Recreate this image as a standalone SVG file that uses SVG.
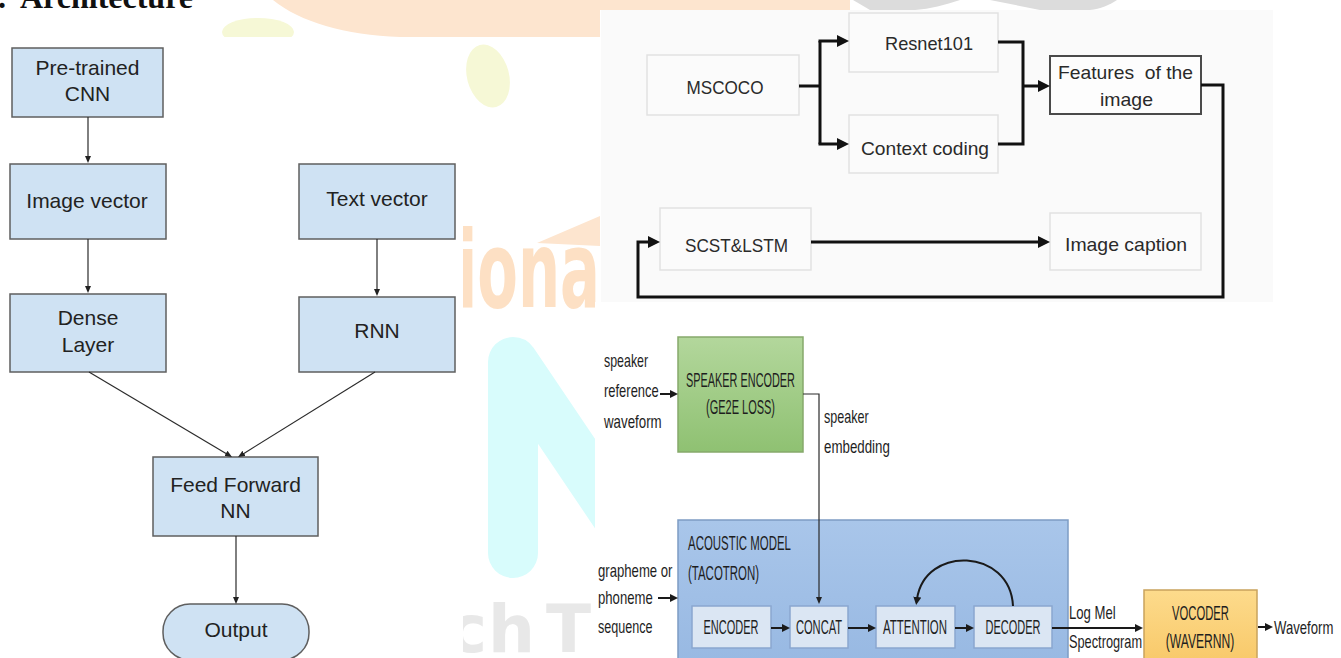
<svg xmlns="http://www.w3.org/2000/svg" width="1341" height="658" viewBox="0 0 1341 658">
<style>
.lbox{fill:#cfe2f3;stroke:#5f5f5f;stroke-width:1.5}
.lt{font-family:"Liberation Sans",Arial,sans-serif;font-size:21px;fill:#222;text-anchor:middle}
.tbox{fill:#fbfbfb;stroke:#e2e2e2;stroke-width:1.5}
.tt{font-family:"Liberation Sans",Arial,sans-serif;font-size:19px;fill:#2a2a2a;text-anchor:middle}
.bt{font-family:"Liberation Sans",Arial,sans-serif;font-size:18px;fill:#1e1e1e}
.btc{font-family:"Liberation Sans",Arial,sans-serif;font-size:20px;fill:#1e1e1e}
.btm{font-family:"Liberation Sans",Arial,sans-serif;font-size:20px;fill:#1e1e1e;text-anchor:middle}
.ibox{fill:#dbe6f3;stroke:#8aa7cf;stroke-width:1.5}
.cl{fill:none;stroke:#2b2b2b;stroke-width:1.2}
.ct{fill:none;stroke:#111;stroke-width:3}
.cb{fill:none;stroke:#1a1a1a;stroke-width:2}
.wm{font-family:"DejaVu Sans",sans-serif;font-weight:bold}
</style>
<defs>
<marker id="aL" viewBox="0 0 7 6" refX="2" refY="3" markerWidth="7" markerHeight="6" markerUnits="userSpaceOnUse" orient="auto"><path d="M0,0 L7,3 L0,6 Z" fill="#222"/></marker>
<marker id="aT" viewBox="0 0 12 12" refX="3" refY="6" markerWidth="12" markerHeight="12" markerUnits="userSpaceOnUse" orient="auto"><path d="M0,0 L12,6 L0,12 Z" fill="#111"/></marker>
<marker id="aB" viewBox="0 0 8 8" refX="2" refY="4" markerWidth="8" markerHeight="8" markerUnits="userSpaceOnUse" orient="auto"><path d="M0,0 L8,4 L0,8 Z" fill="#1a1a1a"/></marker>
<linearGradient id="gGreen" x1="0" y1="0" x2="0" y2="1"><stop offset="0" stop-color="#b3d79c"/><stop offset="1" stop-color="#8fc172"/></linearGradient>
<linearGradient id="gBlue" x1="0" y1="0" x2="0" y2="1"><stop offset="0" stop-color="#a9c6ea"/><stop offset="1" stop-color="#97b8e2"/></linearGradient>
<linearGradient id="gOrange" x1="0" y1="0" x2="0" y2="1"><stop offset="0" stop-color="#fddb8c"/><stop offset="1" stop-color="#f8c868"/></linearGradient>
<clipPath id="cGap"><rect x="463" y="37" width="136" height="621"/></clipPath>
</defs>

<g id="watermark">
<path d="M273,0 C300,22 345,35 400,37 L600,37 L600,10 L850,10 L850,0 Z" fill="#fde5cf"/>
<ellipse cx="258" cy="32" rx="36" ry="14" fill="#f6f8d6"/>
<ellipse cx="488" cy="76" rx="21" ry="32" transform="rotate(-15 488 76)" fill="#f6f8d6"/>
<path d="M537,243 L600,216 L600,246 Z" fill="#fde5cf"/>
<g clip-path="url(#cGap)">
<text class="wm" transform="matrix(0.553,0,0,1,457,307)" font-size="107" fill="#fde0c4">iona</text>
<path d="M513,553 L513,362 L660,580" fill="none" stroke="#d8fcfc" stroke-width="50" stroke-linecap="round" stroke-linejoin="round"/>
<text class="wm" y="652" font-size="66" fill="#e8e8e8" x="448 488 530 546">ch T</text>
</g>
<path d="M853,0 L960,0 C945,5 930,9 915,10 L870,10 Z" fill="#dcdcdc"/>
<path d="M990,0 L1117,0 C1110,5 1100,9 1090,10 L1040,10 Z" fill="#dcdcdc"/>
</g>

<g id="panels">
<rect x="0" y="37" width="463" height="621" fill="#ffffff"/>
<rect x="601" y="10" width="672" height="292" fill="#fafafa"/>
<rect x="595" y="302" width="746" height="356" fill="#ffffff"/>
</g>

<g id="title">
<text y="8" style="font-family:'Liberation Serif','Times New Roman',serif;font-weight:bold;font-size:32px;fill:#111"><tspan x="-2">.</tspan><tspan x="20">Architecture</tspan></text>
</g>

<!-- Left diagram -->
<g id="node-cnn"><rect class="lbox" x="12" y="48" width="151" height="69"/><text class="lt" x="87.5" y="75">Pre-trained</text><text class="lt" x="87.5" y="101">CNN</text></g>
<g id="node-imagevector"><rect class="lbox" x="10" y="164" width="156" height="75"/><text class="lt" x="87" y="208">Image vector</text></g>
<g id="node-textvector"><rect class="lbox" x="299" y="164" width="156" height="75"/><text class="lt" x="377" y="206">Text vector</text></g>
<g id="node-dense"><rect class="lbox" x="10" y="294" width="156" height="78"/><text class="lt" x="88" y="325">Dense</text><text class="lt" x="88" y="352">Layer</text></g>
<g id="node-rnn"><rect class="lbox" x="299" y="297" width="156" height="75"/><text class="lt" x="377" y="338">RNN</text></g>
<g id="node-ffnn"><rect class="lbox" x="153" y="457" width="165" height="79"/><text class="lt" x="235.5" y="492">Feed Forward</text><text class="lt" x="235.5" y="518">NN</text></g>
<g id="node-output"><rect class="lbox" x="163" y="604" width="146" height="56" rx="27"/><text class="lt" x="236" y="637">Output</text></g>

<!-- Top-right diagram -->
<g id="node-mscoco"><rect class="tbox" x="647" y="55" width="152" height="60"/><text class="tt" x="725" y="94" textLength="77" lengthAdjust="spacingAndGlyphs">MSCOCO</text></g>
<g id="node-resnet"><rect class="tbox" x="849" y="13" width="149" height="59"/><text class="tt" x="929" y="50" textLength="88" lengthAdjust="spacingAndGlyphs">Resnet101</text></g>
<g id="node-context"><rect class="tbox" x="849" y="115" width="149" height="58"/><text class="tt" x="925" y="155" textLength="128" lengthAdjust="spacingAndGlyphs">Context coding</text></g>
<g id="node-features"><rect x="1050" y="56" width="151" height="58" fill="#fdfdfd" stroke="#4a4a4a" stroke-width="2"/><text class="tt" x="1125.5" y="79" textLength="135" lengthAdjust="spacingAndGlyphs" style="white-space:pre">Features  of the</text><text class="tt" x="1126.5" y="106" textLength="53" lengthAdjust="spacingAndGlyphs">image</text></g>
<g id="node-scst"><rect class="tbox" x="660" y="208" width="151" height="62"/><text class="tt" x="736.5" y="252" textLength="103" lengthAdjust="spacingAndGlyphs">SCST&amp;LSTM</text></g>
<g id="node-caption"><rect class="tbox" x="1050" y="213" width="151" height="57"/><text class="tt" x="1126" y="251" textLength="122" lengthAdjust="spacingAndGlyphs">Image caption</text></g>

<!-- Bottom-right diagram -->
<g id="node-speaker-encoder"><rect x="678" y="337" width="125" height="115" fill="url(#gGreen)" stroke="#86a96b" stroke-width="1.5"/><text class="btm" transform="matrix(0.545,0,0,1,740.5,387)">SPEAKER ENCODER</text><text class="btm" transform="matrix(0.55,0,0,1,740.5,414)">(GE2E LOSS)</text></g>
<g id="label-speaker-ref"><text class="bt" transform="matrix(0.69,0,0,1,604,367)">speaker</text><text class="bt" transform="matrix(0.72,0,0,1,604,397)">reference</text><text class="bt" transform="matrix(0.74,0,0,1,604,428)">waveform</text></g>
<g id="label-embedding"><text class="bt" transform="matrix(0.70,0,0,1,824,423)">speaker</text><text class="bt" transform="matrix(0.74,0,0,1,824,453)">embedding</text></g>
<g id="node-acoustic"><rect x="678" y="520" width="390" height="150" fill="url(#gBlue)" stroke="#7d9cc4" stroke-width="1.5"/><text class="btc" transform="matrix(0.572,0,0,1,688,550)">ACOUSTIC MODEL</text><text class="btc" transform="matrix(0.574,0,0,1,688,580)">(TACOTRON)</text></g>
<g id="label-grapheme"><text class="bt" transform="matrix(0.73,0,0,1,598,577)">grapheme or</text><text class="bt" transform="matrix(0.73,0,0,1,598,604)">phoneme</text><text class="bt" transform="matrix(0.70,0,0,1,598,633)">sequence</text></g>
<g id="node-encoder"><rect class="ibox" x="692" y="606" width="79" height="42"/><text class="btm" transform="matrix(0.55,0,0,1,731,634)">ENCODER</text></g>
<g id="node-concat"><rect class="ibox" x="790" y="606" width="58" height="42"/><text class="btm" transform="matrix(0.557,0,0,1,819,634)">CONCAT</text></g>
<g id="node-attention"><rect class="ibox" x="876" y="606" width="79" height="42"/><text class="btm" transform="matrix(0.574,0,0,1,915,634)">ATTENTION</text></g>
<g id="node-decoder"><rect class="ibox" x="974" y="606" width="78" height="42"/><text class="btm" transform="matrix(0.55,0,0,1,1013,634)">DECODER</text></g>
<g id="label-logmel"><text class="bt" transform="matrix(0.73,0,0,1,1069,619)">Log Mel</text><text class="bt" transform="matrix(0.71,0,0,1,1069,648)">Spectrogram</text></g>
<g id="node-vocoder"><rect x="1144" y="590" width="113" height="75" fill="url(#gOrange)" stroke="#c9a35c" stroke-width="1.5"/><text class="btm" transform="matrix(0.564,0,0,1,1200.5,620)">VOCODER</text><text class="btm" transform="matrix(0.606,0,0,1,1200,648)">(WAVERNN)</text></g>
<g id="label-waveform"><text class="bt" transform="matrix(0.73,0,0,1,1274,634)">Waveform</text></g>

<g id="connectors">
<path class="cl" d="M88,117 V158" marker-end="url(#aL)"/>
<path class="cl" d="M88,239 V288" marker-end="url(#aL)"/>
<path class="cl" d="M377,239 V291" marker-end="url(#aL)"/>
<path class="cl" d="M89,372 L227.7,454.4" marker-end="url(#aL)"/>
<path class="cl" d="M375,372 L242.3,454.4" marker-end="url(#aL)"/>
<path class="cl" d="M236,536 V599" marker-end="url(#aL)"/>

<path class="ct" d="M799,86 H820"/>
<path class="ct" d="M820,41 V144"/>
<path class="ct" d="M818.5,41 H840" marker-end="url(#aT)"/>
<path class="ct" d="M818.5,144 H840" marker-end="url(#aT)"/>
<path class="ct" d="M998,42 H1023 V144 H998"/>
<path class="ct" d="M1023,86 H1041" marker-end="url(#aT)"/>
<path class="ct" d="M1201,85 H1223 V297 H638 V242 H651" marker-end="url(#aT)"/>
<path class="ct" d="M811,242 H1041" marker-end="url(#aT)"/>

<path class="cb" d="M660,394 H672" marker-end="url(#aB)"/>
<path class="cl" d="M803,394 H819 V599" marker-end="url(#aL)"/>
<path class="cb" d="M658,598 H672" stroke-width="1.5" marker-end="url(#aB)"/>
<path class="cb" d="M771,628 H784" marker-end="url(#aB)"/>
<path class="cb" d="M848,628 H870" marker-end="url(#aB)"/>
<path class="cb" d="M955,628 H968" marker-end="url(#aB)"/>
<path class="cb" d="M1052,628 H1137" marker-end="url(#aB)"/>
<path class="cb" d="M1013,606 C1010,548 925,545 917,599" marker-end="url(#aB)"/>
<path class="cb" d="M1258,627 H1267" marker-end="url(#aB)"/>
</g>
</svg>
